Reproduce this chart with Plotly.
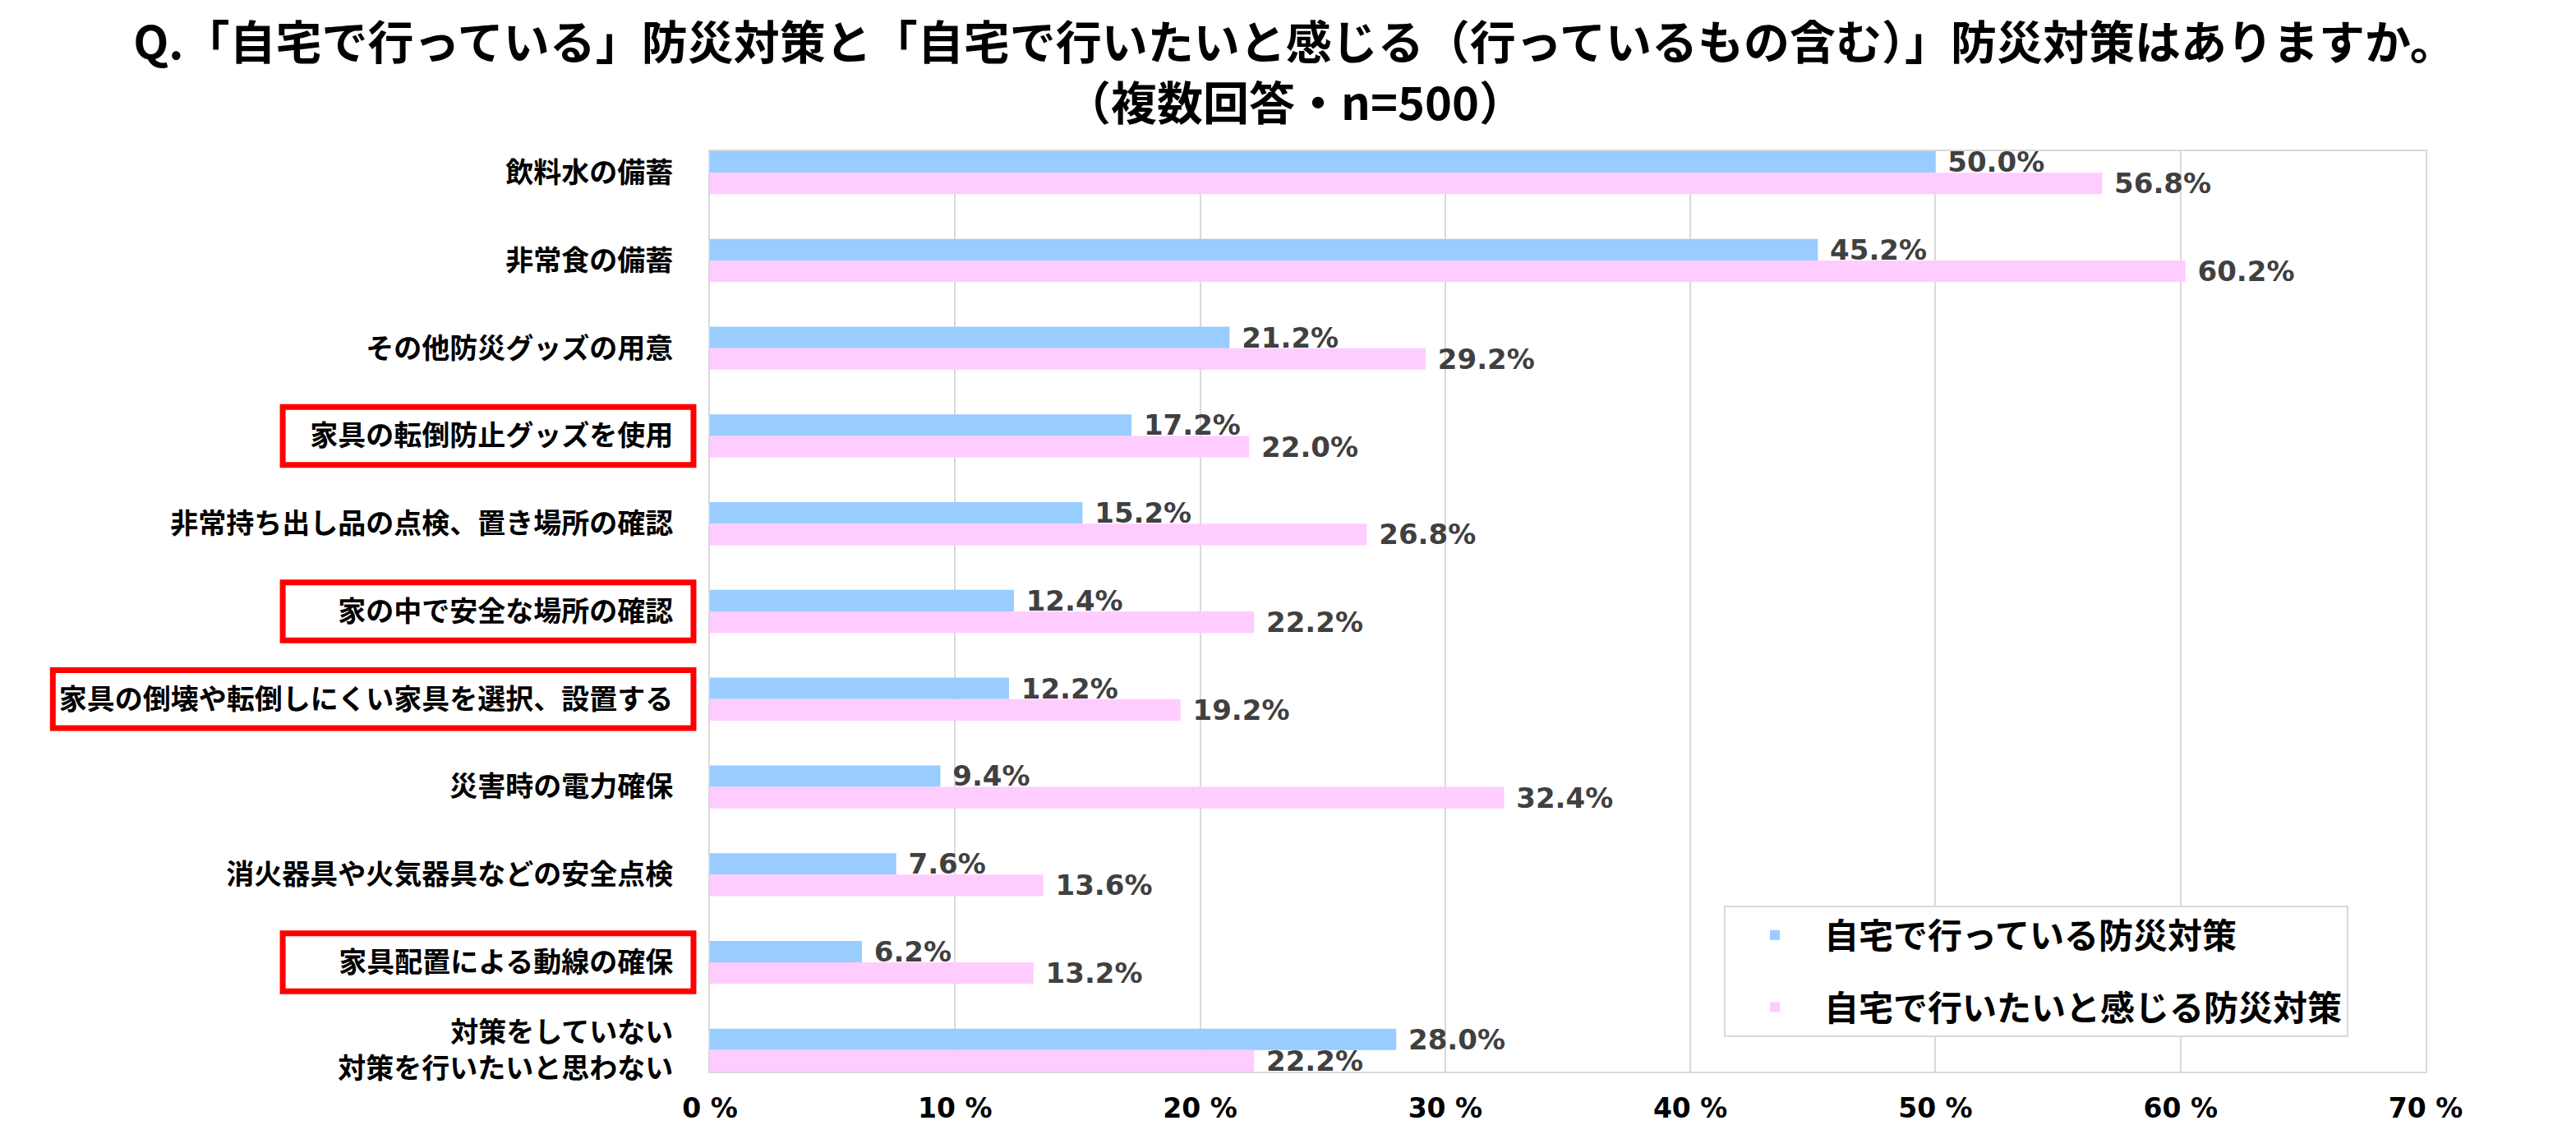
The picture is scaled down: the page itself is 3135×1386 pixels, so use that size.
import plotly.graph_objects as go

# データ（上から順）
categories = [
    "飲料水の備蓄",
    "非常食の備蓄",
    "その他防災グッズの用意",
    "家具の転倒防止グッズを使用",
    "非常持ち出し品の点検、置き場所の確認",
    "家の中で安全な場所の確認",
    "家具の倒壊や転倒しにくい家具を選択、設置する",
    "災害時の電力確保",
    "消火器具や火気器具などの安全点検",
    "家具配置による動線の確保",
    "対策をしていない<br>対策を行いたいと思わない",
]
doing = [50.0, 45.2, 21.2, 17.2, 15.2, 12.4, 12.2, 9.4, 7.6, 6.2, 28.0]
want = [56.8, 60.2, 29.2, 22.0, 26.8, 22.2, 19.2, 32.4, 13.6, 13.2, 22.2]
series_names = ["自宅で行っている防災対策", "自宅で行いたいと感じる防災対策"]
x_ticks = [0, 10, 20, 30, 40, 50, 60, 70]
x_tick_labels = ["0 %", "10 %", "20 %", "30 %", "40 %", "50 %", "60 %", "70 %"]

# 赤枠で囲む項目
highlighted = [
    "家具の転倒防止グッズを使用",
    "家の中で安全な場所の確認",
    "家具の倒壊や転倒しにくい家具を選択、設置する",
    "家具配置による動線の確保",
]

title = "Q.「自宅で行っている」防災対策と「自宅で行いたいと感じる（行っているもの含む）」防災対策はありますか。"
subtitle = "（複数回答・n=500）"

jp = "Noto Sans CJK JP"
num = "DejaVu Sans"

fig = go.Figure()
for name, vals, col in [(series_names[0], doing, "#99CCFF"), (series_names[1], want, "#FFCCFF")]:
    fig.add_trace(go.Bar(
        y=categories, x=vals, name=name, orientation="h",
        marker=dict(color=col, line=dict(width=0)),
        texttemplate=" %{x:.1f}%", textposition="outside",
        textfont=dict(family=num, size=34, color="#404040", weight="bold"),
        constraintext="none", cliponaxis=False,
        legendgroup=name,
    ))

# 赤枠（ラベル部分）
for lab in highlighted:
    i = categories.index(lab)
    left = -0.383 if len(lab) > 15 else -0.249
    fig.add_shape(type="rect", xref="paper", yref="y",
                  x0=left, x1=-0.0096, y0=i - 0.33, y1=i + 0.33,
                  line=dict(color="#FF0000", width=7), fillcolor="rgba(0,0,0,0)")

# 2行目のタイトル（ページ中央）
fig.add_annotation(text=subtitle, xref="paper", yref="paper",
                   x=0.3408, y=1.0554, xanchor="center", yanchor="middle",
                   showarrow=False,
                   font=dict(family=jp, size=56, color="black", weight="bold"))

fig.update_layout(
    width=3135, height=1386,
    margin=dict(l=856, r=191, t=176, b=90),
    paper_bgcolor="white", plot_bgcolor="white",
    barmode="group", bargap=0.51, bargroupgap=0,
    title=dict(text=title, x=0.5, xref="container", xanchor="center",
               y=0.968, yref="container", yanchor="middle",
               font=dict(family=jp, size=56, color="black", weight="bold")),
    legend=dict(x=0.591, y=0.0375, xanchor="left", yanchor="bottom",
                bgcolor="white", bordercolor="#D9D9D9", borderwidth=2,
                font=dict(family=jp, size=42, color="black", weight="bold"),
                traceorder="grouped", tracegroupgap=30, itemwidth=110),
    showlegend=True,
)
fig.update_xaxes(range=[0, 70], tickvals=x_ticks, ticktext=x_tick_labels,
                 showgrid=True, gridcolor="#D9D9D9", gridwidth=2,
                 showline=True, linecolor="#D9D9D9", linewidth=2, mirror=True,
                 zeroline=False, ticks="", ticklabelstandoff=14,
                 tickfont=dict(family=num, size=33, color="black", weight="bold"))
fig.update_yaxes(type="category", categoryorder="array", categoryarray=categories,
                 range=[len(categories) - 1 + 0.245, -0.245],
                 showgrid=False, showline=True, linecolor="#D9D9D9", linewidth=2, mirror=True,
                 ticks="", ticklabelstandoff=36,
                 tickfont=dict(family=jp, size=34, color="black", weight="bold"))

fig.write_html("out.html")
